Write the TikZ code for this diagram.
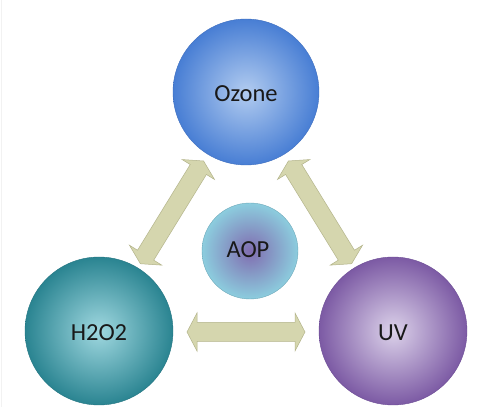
\documentclass[tikz,border=0pt]{standalone}
\usepackage{fontspec}
\setmainfont{Carlito}
\usetikzlibrary{calc}
\definecolor{arrfill}{HTML}{D5D6AE}
\definecolor{arrline}{HTML}{B3B48A}
\definecolor{ozin}{RGB}{178,204,240}
\definecolor{ozout}{RGB}{72,126,212}
\definecolor{ozline}{RGB}{62,110,190}
\definecolor{hin}{RGB}{160,216,224}
\definecolor{hout}{RGB}{42,132,145}
\definecolor{hline}{RGB}{38,118,130}
\definecolor{uvin}{RGB}{220,210,234}
\definecolor{uvout}{RGB}{124,90,164}
\definecolor{uvline}{RGB}{110,78,150}
\definecolor{aopin}{RGB}{128,108,176}
\definecolor{aopout}{RGB}{140,205,222}
\definecolor{aopline}{RGB}{110,168,186}
\begin{document}
\begin{tikzpicture}[x=1pt,y=1pt,
  ball/.style={circle, inner sep=0pt, line width=0.4pt, font=\fontsize{24.5}{28}\selectfont, text=black!90},
  dbl/.style={fill=arrfill, draw=arrline, line width=0.5pt, line join=miter}]
\fill[white] (0,0) rectangle (501,407);
\useasboundingbox (0,0) rectangle (501,407);
\draw[black!5, line width=0.8pt] (1,0) -- (1,407);
\node[ball, minimum size=146pt, inner color=ozin, outer color=ozout, draw=ozline] (oz) at (246,315) {};
\node[ball, minimum size=148pt, inner color=hin, outer color=hout, draw=hline] (h2) at (99,76) {};
\node[ball, minimum size=148pt, inner color=uvin, outer color=uvout, draw=uvline] (uv) at (393,76) {};
\node[ball, minimum size=96pt, inner color=aopin, outer color=aopout, draw=aopline] (aop) at (250,156) {};
\node[ball] (tz) at ([yshift=-2pt]oz.center) {Ozone};
\node[ball] (th) at ([yshift=-2pt]h2.center) {H2O2};
\node[ball] (tu) at ([yshift=-2pt]uv.center) {UV};
\node[ball] (ta) at ([xshift=-2pt,yshift=1pt]aop.center) {AOP};
\newcommand\dblarr[2]{%
  \filldraw[dbl] let \p1=(#1), \p2=(#2),
    \n1={atan2(\y2-\y1,\x2-\x1)}, \n2={veclen(\x2-\x1,\y2-\y1)} in
    [shift={(\p1)}, rotate=\n1]
    (0,0) -- (10pt,19pt) -- (10pt,9.5pt) -- ({\n2-10pt},9.5pt) -- ({\n2-10pt},19pt)
    -- (\n2,0) -- ({\n2-10pt},-19pt) -- ({\n2-10pt},-9.5pt) -- (10pt,-9.5pt)
    -- (10pt,-19pt) -- cycle;}
\coordinate (a1) at ($(h2)!79pt!(oz)$);
\coordinate (a2) at ($(oz)!81pt!(h2)$);
\coordinate (b1) at ($(oz)!81pt!(uv)$);
\coordinate (b2) at ($(uv)!79pt!(oz)$);
\coordinate (c1) at ($(h2)!88pt!(uv)+(0,-1)$);
\coordinate (c2) at ($(uv)!88pt!(h2)+(0,-1)$);
\dblarr{a1}{a2}
\dblarr{b1}{b2}
\dblarr{c1}{c2}
\end{tikzpicture}
\end{document}
